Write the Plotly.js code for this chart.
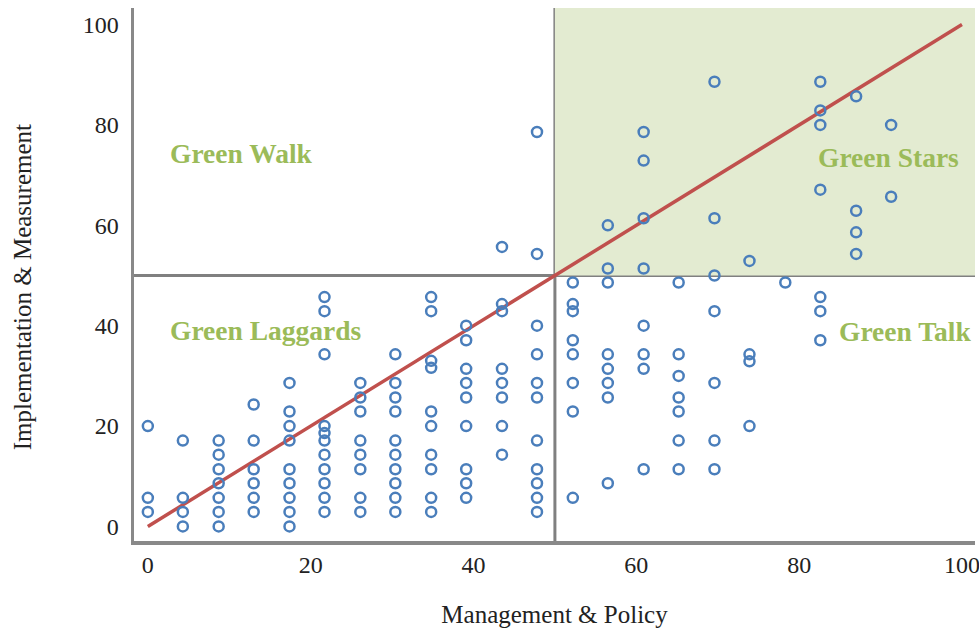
<!DOCTYPE html>
<html>
<head>
<meta charset="utf-8">
<script src="https://cdn.plot.ly/plotly-3.0.1.min.js"></script>
<style>html,body{margin:0;padding:0;background:#fff;}#chart{width:979px;height:628px;}</style>
</head>
<body>
<div id="chart"></div>
<script>
// Management & Policy score of each column of firms
const columnX = [0, 4.3, 8.7, 13.0, 17.4, 21.7, 26.1, 30.4, 34.8, 39.1, 43.5, 47.8,
                 52.2, 56.5, 60.9, 65.2, 69.6, 73.9, 78.3, 82.6, 87.0, 91.3];
// Implementation & Measurement scores of the firms in each column
const columnY = [
  [20.0, 5.7, 2.9],
  [17.1, 5.7, 2.9, 0],
  [17.1, 14.3, 11.4, 8.6, 5.7, 2.9, 0],
  [24.3, 17.1, 11.4, 8.6, 5.7, 2.9],
  [28.6, 22.9, 20.0, 17.1, 11.4, 8.6, 5.7, 2.9, 0],
  [45.7, 42.9, 34.3, 20.0, 18.6, 17.1, 14.3, 11.4, 8.6, 5.7, 2.9],
  [28.6, 25.7, 22.9, 17.1, 14.3, 11.4, 5.7, 2.9],
  [34.3, 28.6, 25.7, 22.9, 17.1, 14.3, 11.4, 8.6, 5.7, 2.9],
  [45.7, 42.9, 33.0, 31.6, 22.9, 20.0, 14.3, 11.4, 5.7, 2.9],
  [40.0, 37.1, 31.4, 28.6, 25.7, 20.0, 11.4, 8.6, 5.7],
  [55.7, 44.3, 42.9, 31.4, 28.6, 25.7, 20.0, 14.3],
  [78.6, 54.3, 40.0, 34.3, 28.6, 25.7, 17.1, 11.4, 8.6, 5.7, 2.9],
  [48.6, 44.3, 42.9, 37.1, 34.3, 28.6, 22.9, 5.7],
  [60.0, 51.4, 48.6, 34.3, 31.4, 28.6, 25.7, 8.6],
  [78.6, 72.9, 61.4, 51.4, 40.0, 34.3, 31.4, 11.4],
  [48.6, 34.3, 30.0, 25.7, 22.9, 17.1, 11.4],
  [88.6, 61.4, 50.0, 42.9, 28.6, 17.1, 11.4],
  [52.9, 34.3, 32.9, 20.0],
  [48.6],
  [88.6, 82.9, 80.0, 67.1, 45.7, 42.9, 37.1],
  [85.7, 62.9, 58.6, 54.3],
  [80.0, 65.7]
];
// Diagonal reference line
const lineX = [0, 100];
const lineY = [0, 100];
// Quadrant thresholds
const thresholdX = 50;
const thresholdY = 50;
// Quadrant labels
const quadLabels = ["Green Walk", "Green Stars", "Green Laggards", "Green Talk"];
const tickVals = [0, 20, 40, 60, 80, 100];
const tickText = ["0", "20", "40", "60", "80", "100"];

const px = [], py = [];
columnX.forEach((x, i) => columnY[i].forEach(y => { px.push(x); py.push(y); }));

const FONT = "Liberation Serif, Times New Roman, serif";
const GREEN_TXT = "#9bbb59";

const traces = [
  {x: lineX, y: lineY, type: "scatter", mode: "lines",
   line: {color: "#c0504d", width: 3.5}, hoverinfo: "skip"},
  {x: px, y: py, type: "scatter", mode: "markers",
   marker: {symbol: "circle-open", size: 10, color: "#4a7ebb", line: {width: 2.5, color: "#4a7ebb"}}}
];

const xr = [-1.7, 101.6], yr = [-2.9, 103.3];

const layout = {
  width: 979, height: 628,
  margin: {l: 134, r: 4, t: 8, b: 87},
  paper_bgcolor: "#ffffff", plot_bgcolor: "#ffffff",
  showlegend: false,
  font: {family: FONT, color: "#222", size: 24},
  xaxis: {range: xr, tickvals: tickVals, ticktext: tickText, showgrid: false, zeroline: false,
          showline: true, linecolor: "#898989", linewidth: 3.5, ticks: "", ticklabelstandoff: 0,
          ticklabeloverflow: "allow",
          tickfont: {family: FONT, size: 24, color: "#222"},
          title: {text: "Management & Policy", font: {family: FONT, size: 25, color: "#222"}, standoff: 36}},
  yaxis: {range: yr, tickvals: tickVals, ticktext: tickText, showgrid: false, zeroline: false,
          showline: true, linecolor: "#898989", linewidth: 3.5, ticks: "", ticklabelstandoff: 7,
          ticklabeloverflow: "allow",
          tickfont: {family: FONT, size: 24, color: "#222"}},
  shapes: [
    {type: "rect", layer: "below", xref: "x", yref: "y", x0: thresholdX, x1: xr[1], y0: thresholdY, y1: yr[1],
     fillcolor: "#e3ebd1", line: {width: 0}},
    {type: "line", layer: "below", xref: "x", yref: "paper", x0: thresholdX, x1: thresholdX, y0: 0, y1: 1,
     line: {color: "#808080", width: 3}},
    {type: "line", layer: "below", xref: "paper", yref: "y", x0: 0, x1: 1, y0: thresholdY, y1: thresholdY,
     line: {color: "#808080", width: 3}}
  ],
  annotations: [
    {text: quadLabels[0], x: 2.5, y: 74.3, xref: "x", yref: "y", xanchor: "left", yanchor: "middle", showarrow: false,
     font: {family: FONT, size: 27.5, color: GREEN_TXT, weight: "bold"}},
    {text: quadLabels[1], x: 91.0, y: 73.5, xref: "x", yref: "y", xanchor: "center", yanchor: "middle", showarrow: false,
     font: {family: FONT, size: 27.5, color: GREEN_TXT, weight: "bold"}},
    {text: quadLabels[2], x: 2.5, y: 39.0, xref: "x", yref: "y", xanchor: "left", yanchor: "middle", showarrow: false,
     font: {family: FONT, size: 27.5, color: GREEN_TXT, weight: "bold"}},
    {text: quadLabels[3], x: 93.0, y: 38.8, xref: "x", yref: "y", xanchor: "center", yanchor: "middle", showarrow: false,
     font: {family: FONT, size: 27.5, color: GREEN_TXT, weight: "bold"}},
    {text: "Implementation & Measurement", xref: "paper", yref: "paper", x: 0, y: 0.476, xshift: -112,
     xanchor: "center", yanchor: "middle", textangle: -90, showarrow: false,
     font: {family: FONT, size: 25, color: "#222"}}
  ]
};

Plotly.newPlot("chart", traces, layout, {displayModeBar: false, staticPlot: true});
</script>
</body>
</html>
